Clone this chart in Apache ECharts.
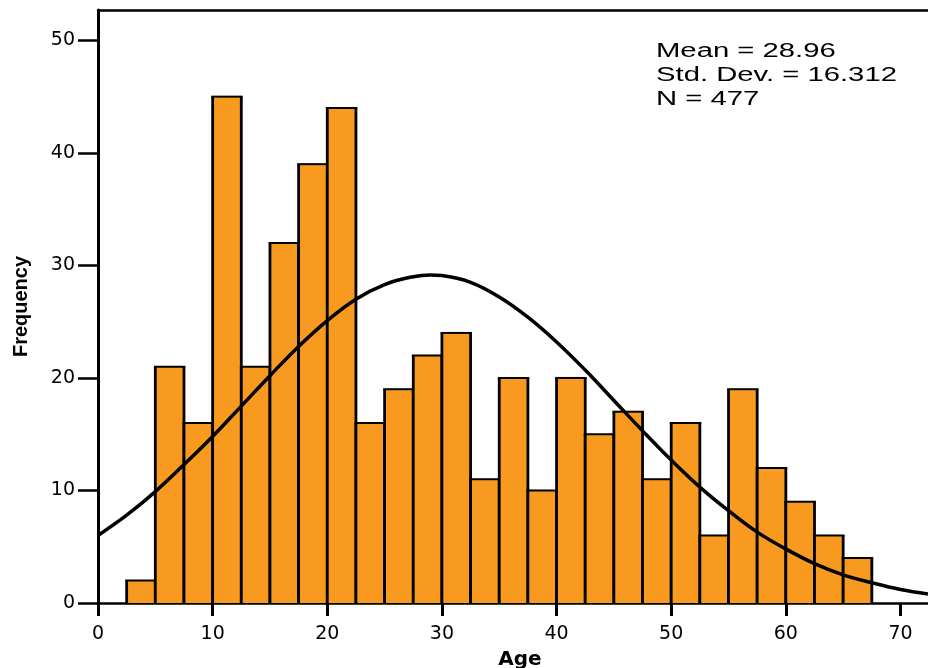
<!DOCTYPE html>
<html>
<head>
<meta charset="utf-8">
<script src="https://cdn.jsdelivr.net/npm/echarts@6/dist/echarts.min.js"></script>
<style>
  html, body { margin: 0; padding: 0; background: #fff; }
</style>
</head>
<body>
<div id="histChart" style="width: 928px; height: 668px"></div>
<script>
// histogram bins (start of each 2.5-year bin) and counts
const binStarts = [2.5, 5, 7.5, 10, 12.5, 15, 17.5, 20, 22.5, 25, 27.5, 30, 32.5,
  35, 37.5, 40, 42.5, 45, 47.5, 50, 52.5, 55, 57.5, 60, 62.5, 65];
const counts = [2, 21, 16, 45, 21, 32, 39, 44, 16, 19, 22, 24, 11,
  20, 10, 20, 15, 17, 11, 16, 6, 19, 12, 9, 6, 4];
const binWidth = 2.5;

// fitted curve
const curveX = [0, 2.5, 5, 7.5, 10, 12.5, 15, 17.5, 20, 22.5, 25, 27.5, 29, 30, 32.5,
  35, 37.5, 40, 42.5, 45, 47.5, 50, 52.5, 55, 57.5, 60, 62.5, 65, 67.5, 70, 72.4];
const curveY = [6.0, 7.8, 9.9, 12.3, 14.8, 17.5, 20.2, 22.8, 25.1, 27.0, 28.3, 29.0, 29.15, 29.1, 28.5,
  27.2, 25.4, 23.2, 20.7, 18.0, 15.3, 12.7, 10.3, 8.2, 6.3, 4.8, 3.5, 2.5, 1.8, 1.2, 0.8];

const xTicks = [0, 10, 20, 30, 40, 50, 60, 70];
const yTicks = [0, 10, 20, 30, 40, 50];
const statsText = ["Mean = 28.96", "Std. Dev. = 16.312", "N = 477"];

const chart = echarts.init(document.getElementById("histChart"));
const font = "Liberation Sans, Arial, sans-serif";
const wideFont = "DejaVu Sans, Verdana, sans-serif";

const option = {
  animation: false,
  backgroundColor: "#fff",
  grid: { left: 98, right: 0, top: 10, bottom: 65, containLabel: false, outerBoundsMode: "none" },
  xAxis: [
    {
      type: "value",
      min: 0,
      max: 72.4,
      name: "Age",
      nameLocation: "middle",
      nameGap: 47,
      nameTextStyle: { fontFamily: wideFont, fontSize: 20, fontWeight: "bold", color: "#000", padding: [0, 0, 0, 14] },
      axisLine: { lineStyle: { color: "#000", width: 2.5 } },
      axisTick: { length: 13, lineStyle: { color: "#000", width: 3 }, customValues: xTicks },
      axisLabel: { fontFamily: wideFont, fontSize: 19, color: "#000", margin: 22, customValues: xTicks },
      splitLine: { show: false },
    },
    {
      type: "value",
      position: "top",
      min: 0,
      max: 72.4,
      axisLine: { show: true, lineStyle: { color: "#000", width: 2.5 } },
      axisTick: { show: false },
      axisLabel: { show: false },
      splitLine: { show: false },
    },
  ],
  yAxis: {
    type: "value",
    min: 0,
    max: 52.7,
    name: "Frequency",
    nameLocation: "middle",
    nameGap: 67,
    nameTextStyle: { fontFamily: font, fontSize: 20, fontWeight: "bold", color: "#000" },
    axisLine: { show: true, lineStyle: { color: "#000", width: 3 } },
    axisTick: { show: true, length: 20, lineStyle: { color: "#000", width: 2.5 }, customValues: yTicks },
    axisLabel: { fontFamily: wideFont, fontSize: 19, color: "#000", margin: 23, customValues: yTicks },
    splitLine: { show: false },
  },
  graphic: [
    {
      type: "text",
      left: 656,
      top: 40,
      scaleX: 1.5,
      style: {
        text: statsText.join("\n"),
        font: "19.5px " + font,
        lineHeight: 24,
        fill: "#000",
      },
    },
  ],
  series: [
    {
      type: "custom",
      xAxisIndex: 0,
      data: binStarts.map((s, i) => [s, counts[i]]),
      renderItem: (params, api) => {
        const start = api.value(0);
        const p0 = api.coord([start, 0]);
        const p1 = api.coord([start + binWidth, api.value(1)]);
        const lineStyle = (w) => ({ stroke: "#000", lineWidth: w });
        return {
          type: "group",
          children: [
            {
              type: "rect",
              shape: { x: p0[0], y: p1[1], width: p1[0] - p0[0], height: p0[1] - p1[1] },
              style: { fill: "#F89A1F" },
            },
            { type: "line", shape: { x1: p0[0], y1: p0[1], x2: p0[0], y2: p1[1] }, style: lineStyle(2.8) },
            { type: "line", shape: { x1: p1[0], y1: p0[1], x2: p1[0], y2: p1[1] }, style: lineStyle(2.8) },
            { type: "line", shape: { x1: p0[0] - 1.4, y1: p1[1], x2: p1[0] + 1.4, y2: p1[1] }, style: lineStyle(2) },
          ],
        };
      },
      z: 2,
    },
    {
      type: "line",
      xAxisIndex: 0,
      data: curveX.map((x, i) => [x, curveY[i]]),
      smooth: 0.4,
      showSymbol: false,
      lineStyle: { color: "#000", width: 3.5 },
      z: 3,
    },
  ],
};

chart.setOption(option);
</script>
</body>
</html>
